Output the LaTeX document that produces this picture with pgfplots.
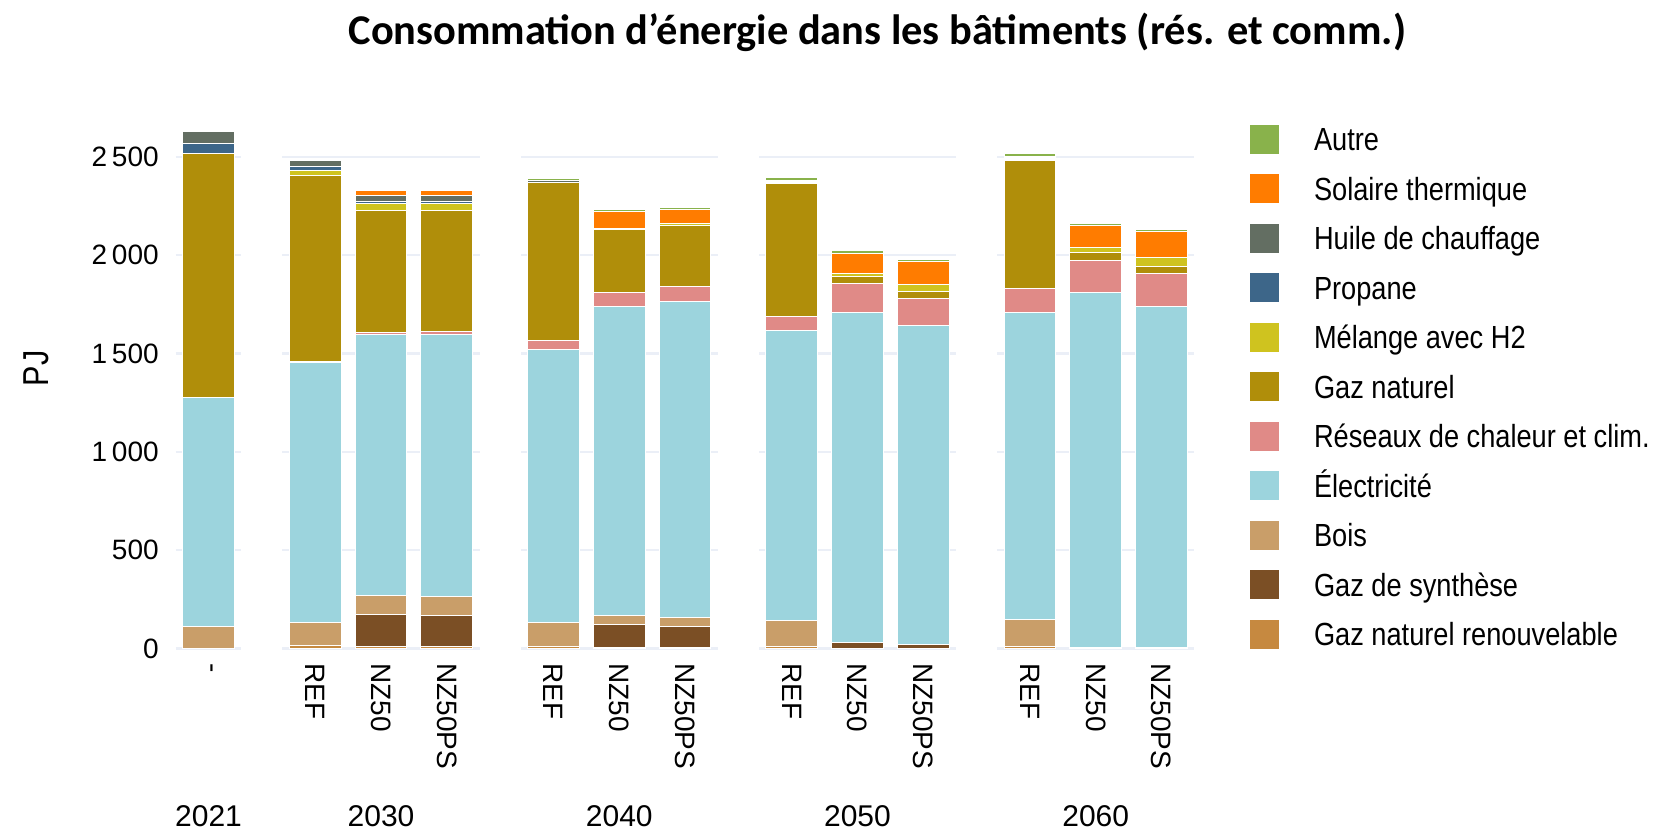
\documentclass[border=0pt]{standalone}
\usepackage{fontspec}
\setmainfont{Liberation Sans}
\newfontfamily\legfont[FakeStretch=0.85]{Liberation Sans}
\newfontfamily\titlefont{Carlito}
\usepackage{pgfplots}
\usepackage{pgfplotstable}
\pgfplotsset{compat=1.18}

\definecolor{cAutre}{HTML}{89B24B}
\definecolor{cSol}{HTML}{FF7C00}
\definecolor{cHuile}{HTML}{636E62}
\definecolor{cProp}{HTML}{3D6689}
\definecolor{cMel}{HTML}{CFC31F}
\definecolor{cGaz}{HTML}{B08E0A}
\definecolor{cRes}{HTML}{E08A87}
\definecolor{cElec}{HTML}{9CD4DD}
\definecolor{cBois}{HTML}{C99E69}
\definecolor{cSyn}{HTML}{7B4F25}
\definecolor{cGnr}{HTML}{C68940}
\definecolor{gridc}{HTML}{EBEFF7}

\pgfplotstableread{
x      gnr syn bois elec res gaz mel prop huile sol autre
0      2   0   112  1161 0   1244 0  47   62    0   0
1.625  15  0   119  1323 5   943  24 20   31    0   0
2.625  10  165 97   1323 12  620  35 14   28    25  0
3.625  10  160 97   1328 15  617  35 14   28    25  0
5.25   12  0   119  1392 43  803  0  2    8     2   12
6.25   3   120 44   1575 70  317  8  0    0     85  10
7.25   3   110 46   1607 74  311  10 0    0     70  12
8.875  12  0   129  1476 71  675  4  3    6     5   16
9.875  2   28  0    1680 144 39   13 0    0     101 16
10.875 2   20  0    1623 136 37   31 0    0     117 14
12.5   10  0   138  1562 120 653  5  4    6     6   14
13.5   2   5   0    1805 161 39   29 0    0     108 15
14.5   3   0   4    1735 164 38   46 0    0     130 12
}\data

\pgfplotsset{
  sqleg/.style={legend image code/.code={\fill[##1,draw=none] (0pt,-7.25pt) rectangle (14.5pt,7.25pt);}},
  bs/.style={fill=#1, draw=white, line width=0.5pt, sqleg},
}

\newcommand{\gapmask}[2]{%
  \fill[white] (axis cs:#1,-30) rectangle (axis cs:#2,2560);
}

\begin{document}
\begin{tikzpicture}
\path[use as bounding box] (-87.85pt,-91.75pt) rectangle (739.65pt,324.25pt);
\begin{axis}[
  scale only axis,
  width=509.3pt, height=261.5pt,
  xmin=-0.5, xmax=15, ymin=0, ymax=2660,
  ybar stacked, bar width=0.787,
  clip=false,
  axis line style={draw=none},
  tick style={draw=none},
  ymajorgrids,
  grid style={gridc, line width=1.2pt},
  ytick={0,500,1000,1500,2000,2500},
  yticklabels={0,500,1\,000,1\,500,2\,000,2\,500},
  yticklabel style={font=\fontsize{14}{14}\selectfont, anchor=east, inner sep=0pt, xshift=-8.3pt},
  xtick={0,1.625,2.625,3.625,5.25,6.25,7.25,8.875,9.875,10.875,12.5,13.5,14.5},
  xticklabels={-,REF,NZ50,NZ50PS,REF,NZ50,NZ50PS,REF,NZ50,NZ50PS,REF,NZ50,NZ50PS},
  xticklabel style={font=\fontsize{14}{14}\selectfont, inner sep=0pt, yshift=-7.25pt, rotate=-90, anchor=west},
  ylabel={PJ},
  ylabel style={at={(axis description cs:-0.137,0.536)}, anchor=center, font=\legfont\fontsize{18}{18}\selectfont},
  reverse legend,
  legend cell align=left,
  legend style={at={(axis description cs:1.0547,1.0013)}, anchor=north west, draw=none, fill=none,
    inner sep=0pt, outer sep=0pt, row sep=10.25pt, column sep=17.5pt,
    nodes={inner sep=0pt, text height=11.5pt, text depth=0pt, font=\legfont\fontsize{16}{16}\selectfont}},
]
\addplot[bs=cGnr] table[x=x,y=gnr]{\data}; \addlegendentry{Gaz naturel renouvelable}
\addplot[bs=cSyn] table[x=x,y=syn]{\data}; \addlegendentry{Gaz de synthèse}
\addplot[bs=cBois] table[x=x,y=bois]{\data}; \addlegendentry{Bois}
\addplot[bs=cElec] table[x=x,y=elec]{\data}; \addlegendentry{Électricité}
\addplot[bs=cRes] table[x=x,y=res]{\data}; \addlegendentry{Réseaux de chaleur et clim.}
\addplot[bs=cGaz] table[x=x,y=gaz]{\data}; \addlegendentry{Gaz naturel}
\addplot[bs=cMel] table[x=x,y=mel]{\data}; \addlegendentry{Mélange avec H2}
\addplot[bs=cProp] table[x=x,y=prop]{\data}; \addlegendentry{Propane}
\addplot[bs=cHuile] table[x=x,y=huile]{\data}; \addlegendentry{Huile de chauffage}
\addplot[bs=cSol] table[x=x,y=sol]{\data}; \addlegendentry{Solaire thermique}
\addplot[bs=cAutre] table[x=x,y=autre]{\data}; \addlegendentry{Autre}

\gapmask{0.5}{1.125}
\gapmask{4.125}{4.75}
\gapmask{7.75}{8.375}
\gapmask{11.375}{12}

\node[font=\fontsize{15}{15}\selectfont, yshift=-83.75pt] at (axis cs:0,0) {2021};
\node[font=\fontsize{15}{15}\selectfont, yshift=-83.75pt] at (axis cs:2.625,0) {2030};
\node[font=\fontsize{15}{15}\selectfont, yshift=-83.75pt] at (axis cs:6.25,0) {2040};
\node[font=\fontsize{15}{15}\selectfont, yshift=-83.75pt] at (axis cs:9.875,0) {2050};
\node[font=\fontsize{15}{15}\selectfont, yshift=-83.75pt] at (axis cs:13.5,0) {2060};
\end{axis}
\node[font=\titlefont\bfseries\fontsize{21.2}{21.2}\selectfont, anchor=base] at (350.9pt,302.25pt) {Consommation d’énergie dans les bâtiments (rés. et comm.)};
\end{tikzpicture}
\end{document}
